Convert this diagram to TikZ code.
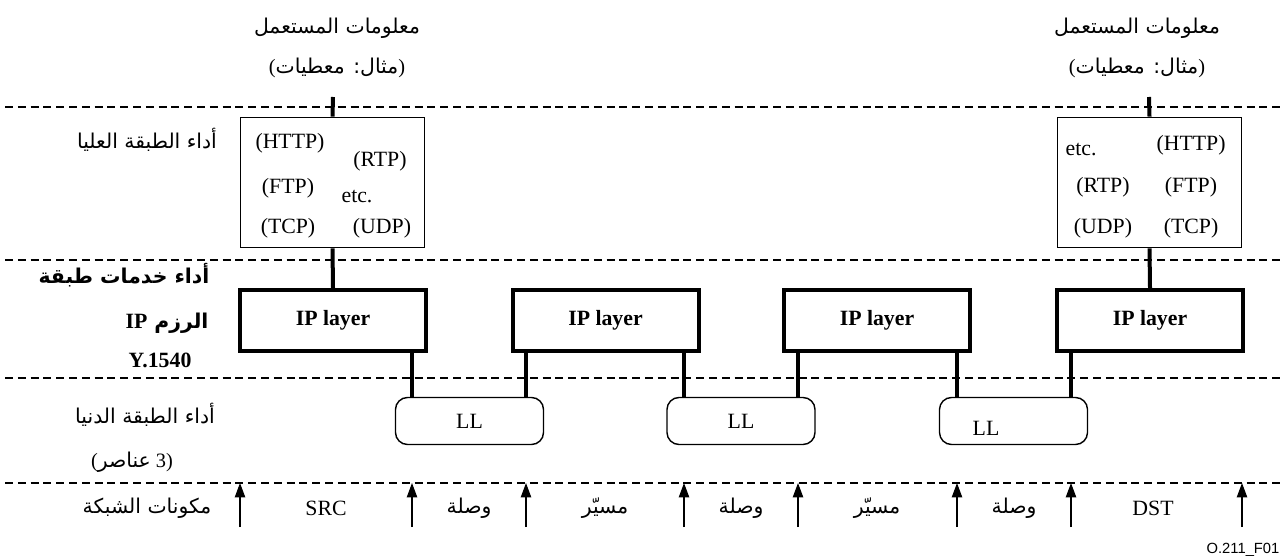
\documentclass[tikz,border=0pt]{standalone}
\usepackage{fontspec}
\setmainfont{Liberation Serif}
\setsansfont{Liberation Sans}
\newfontfamily\arabicfont[Script=Arabic]{DejaVu Sans}
\TeXXeTstate=1
\usetikzlibrary{arrows.meta}
\newcommand{\artext}[1]{{\arabicfont\beginR #1\endR}}

\begin{document}
\begin{tikzpicture}[x=0.25mm, y=-0.25mm, font=\fontsize{15.5}{18}\selectfont]
  \tikzset{sep/.style={line width=0.3mm, dash pattern=on 2mm off 1.2mm},
           appbox/.style={draw, line width=0.4mm, minimum width=46mm, minimum height=32.5mm},
           ipbox/.style={draw, line width=1mm, minimum width=46.5mm, minimum height=15.25mm, font=\fontsize{15.5}{18}\selectfont\bfseries},
           llbox/.style={draw, rounded corners=3mm, line width=0.35mm, minimum width=37mm, minimum height=11.75mm},
           link/.style={line width=1mm},
           uparrow/.style={-{Triangle[length=3.6mm, width=2.6mm]}, line width=0.3mm},
           artxt/.style={font=\fontsize{14.5}{17}\selectfont},
           arbold/.style={font=\fontsize{14.5}{17}\selectfont\bfseries}}

  \useasboundingbox (0,0) rectangle (1284,558);

  % layer separators
  \foreach \name/\y in {sa/107, sb/260, sc/378, sd/483} {
    \coordinate (\name w) at (5,\y);
    \coordinate (\name e) at (1280,\y);
    \draw[sep] (\name w) -- (\name e);
  }

  % user information
  \node[artxt] (infoL) at (337,28) {\artext{معلومات المستعمل}};
  \node[artxt] (exL) at (337,68) {(\artext{مثال: معطيات})};
  \node[artxt] (infoR) at (1137,28) {\artext{معلومات المستعمل}};
  \node[artxt] (exR) at (1137,68) {(\artext{مثال: معطيات})};

  % upper layer boxes
  \node[appbox] (appL) at (332.5,182.5) {};
  \node (httpL) at (290,143) {(HTTP)};
  \node (rtpL) at (380,161) {(RTP)};
  \node (ftpL) at (288,188) {(FTP)};
  \node (etcL) at (357,197) {etc.};
  \node (tcpL) at (288,228) {(TCP)};
  \node (udpL) at (382,228) {(UDP)};

  \node[appbox] (appR) at (1149.5,182.5) {};
  \node (etcR) at (1081,150) {etc.};
  \node (httpR) at (1191,145) {(HTTP)};
  \node (rtpR) at (1103,187) {(RTP)};
  \node (ftpR) at (1191,187) {(FTP)};
  \node (udpR) at (1103,228) {(UDP)};
  \node (tcpR) at (1191,228) {(TCP)};

  % IP layer
  \node[ipbox] (ip1) at (333,320.5) {IP layer};
  \node[ipbox] (ip2) at (605.5,320.5) {IP layer};
  \node[ipbox] (ip3) at (877,320.5) {IP layer};
  \node[ipbox] (ip4) at (1150,320.5) {IP layer};

  % lower layers
  \node[llbox] (ll1) at (469.5,421) {LL};
  \node[llbox] (ll2) at (741,421) {LL};
  \node[llbox] (ll3) at (1013.5,421) {};
  \node (ll3txt) at (986,428) {LL};

  % left column
  \node[artxt] (upperperf) at (147,140) {\artext{أداء الطبقة العليا}};
  \node[arbold] (ipperfa) at (124,275) {\artext{أداء خدمات طبقة}};
  \node[arbold] (ipperfb) at (167,323) {\artext{الرزم \beginL{\rmfamily\fontsize{15.5}{18}\selectfont IP}\endL}};
  \node[font=\fontsize{15.5}{18}\selectfont\bfseries] (ipperfc) at (160,360) {Y.1540};
  \node[artxt] (lowperf) at (145,415) {\artext{أداء الطبقة الدنيا}};
  \node[artxt] (lowcount) at (132,462) {(\artext{عناصر} 3)};
  \node[artxt] (netcomp) at (147,508) {\artext{مكونات الشبكة}};

  % network components
  \foreach \name/\x in {c1/240, c2/412, c3/526, c4/684, c5/798, c6/957, c7/1071, c8/1242}
    \coordinate (\name) at (\x,527);
  \foreach \name in {c1,c2,c3,c4,c5,c6,c7,c8}
    \draw[uparrow] (\name) -- (\name |- sdw);

  \node (src) at (326,508) {SRC};
  \node[artxt] (linka) at (469,508) {\artext{وصلة}};
  \node[artxt] (routera) at (605,508) {\artext{مسيّر}};
  \node[artxt] (linkb) at (741,508) {\artext{وصلة}};
  \node[artxt] (routerb) at (877,508) {\artext{مسيّر}};
  \node[artxt] (linkc) at (1014,508) {\artext{وصلة}};
  \node (dst) at (1153,508) {DST};

  % connections
  \coordinate (topL) at (333,97);
  \coordinate (topR) at (1149,97);
  \draw[link] (topL) -- (appL.north);
  \draw[link] (appL.south) -- (ip1.north);
  \draw[link] (topR) -- (appR.north);
  \draw[link] (appR.south) -- (ip4.north);
  \draw[link] (ip1.south -| c2) -- (ll1.north -| c2);
  \draw[link] (ip2.south -| c3) -- (ll1.north -| c3);
  \draw[link] (ip2.south -| c4) -- (ll2.north -| c4);
  \draw[link] (ip3.south -| c5) -- (ll2.north -| c5);
  \draw[link] (ip3.south -| c6) -- (ll3.north -| c6);
  \draw[link] (ip4.south -| c7) -- (ll3.north -| c7);

  \node[font=\sffamily\fontsize{10.5}{12}\selectfont] (figid) at (1243,550) {O.211\_F01};
\end{tikzpicture}
\end{document}
